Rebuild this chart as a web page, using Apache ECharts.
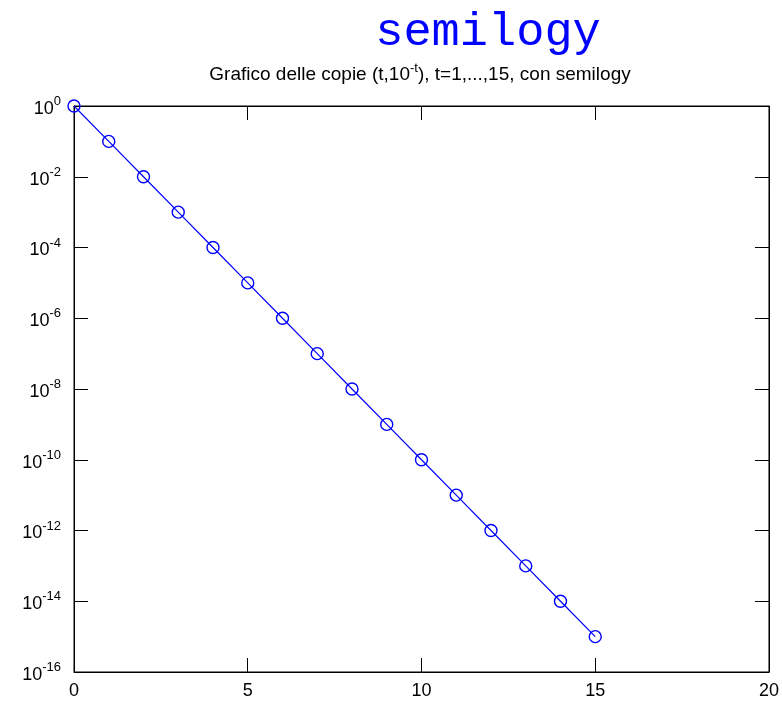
<!DOCTYPE html>
<html>
<head>
<meta charset="utf-8">
<script src="https://cdn.jsdelivr.net/npm/echarts@6/dist/echarts.min.js"></script>
<style>
html,body{margin:0;padding:0;background:#fff;}
#chart{width:782px;height:703px;}
</style>
</head>
<body>
<div id="chart"></div>
<script>
var tValues = [0, 1, 2, 3, 4, 5, 6, 7, 8, 9, 10, 11, 12, 13, 14, 15];
var yValues = [1, 1e-1, 1e-2, 1e-3, 1e-4, 1e-5, 1e-6, 1e-7, 1e-8, 1e-9, 1e-10, 1e-11, 1e-12, 1e-13, 1e-14, 1e-15];
var xTicks = [0, 5, 10, 15, 20];
var yTickExponents = [0, -2, -4, -6, -8, -10, -12, -14, -16];
var titleText = 'semilogy';
var subtitleMain = 'Grafico delle copie (t,10';
var subtitleSup = '-t';
var subtitleEnd = '), t=1,...,15, con semilogy';

var FONT = '"Liberation Sans", Arial, sans-serif';
var chart = echarts.init(document.getElementById('chart'), null, {renderer: 'canvas'});

var data = tValues.map(function (t, i) { return [t, yValues[i]]; });

function yLabel(v) {
  var e = Math.round(Math.log10(v));
  return '{b|10}{s|' + e + '}';
}

var tickStyle = {show: true, inside: true, length: 14, lineStyle: {color: '#000', width: 1}};

var option = {
  backgroundColor: '#fff',
  animation: false,
  grid: {left: 74, right: 12, top: 106, bottom: 31, show: true, borderColor: '#000', borderWidth: 1, backgroundColor: 'transparent'},
  xAxis: [{
    type: 'value', min: xTicks[0], max: xTicks[xTicks.length - 1], interval: 5, position: 'bottom',
    axisLine: {show: true, onZero: false, lineStyle: {color: '#000', width: 1}},
    axisTick: tickStyle,
    splitLine: {show: false},
    axisLabel: {show: true, margin: 10, color: '#000', fontSize: 18, fontFamily: FONT}
  }, {
    type: 'value', min: xTicks[0], max: xTicks[xTicks.length - 1], interval: 5, position: 'top',
    axisLine: {show: true, onZero: false, lineStyle: {color: '#000', width: 1}},
    axisTick: tickStyle,
    splitLine: {show: false},
    axisLabel: {show: false}
  }],
  yAxis: [{
    type: 'log', logBase: 10, min: 1e-16, max: 1, interval: 2, position: 'left',
    axisLine: {show: true, onZero: false, lineStyle: {color: '#000', width: 1}},
    axisTick: tickStyle,
    minorTick: {show: false},
    splitLine: {show: false},
    axisLabel: {
      show: true, margin: 13, color: '#000', formatter: yLabel,
      rich: {
        b: {fontSize: 18, fontFamily: FONT, color: '#000', padding: [6, 0, 0, 0]},
        s: {fontSize: 13, fontFamily: FONT, color: '#000', padding: [0, 0, 9, 0]}
      }
    }
  }, {
    type: 'log', logBase: 10, min: 1e-16, max: 1, interval: 2, position: 'right',
    axisLine: {show: true, onZero: false, lineStyle: {color: '#000', width: 1}},
    axisTick: tickStyle,
    minorTick: {show: false},
    splitLine: {show: false},
    axisLabel: {show: false}
  }],
  series: [{
    type: 'line',
    xAxisIndex: 0, yAxisIndex: 0,
    data: data,
    symbol: 'circle',
    symbolSize: 12,
    showAllSymbol: true,
    z: 3,
    lineStyle: {color: '#0000ff', width: 1.2},
    itemStyle: {color: 'rgba(0,0,0,0)', borderColor: '#0000ff', borderWidth: 1.4},
    clip: false
  }],
  graphic: [{
    type: 'text', x: 488, y: 9,
    style: {text: titleText, fill: '#0000ff', font: '47px "Liberation Mono", "DejaVu Sans Mono", monospace', align: 'center', verticalAlign: 'top'}
  }, {
    type: 'text', x: 420, y: 60,
    style: {
      text: '{b|' + subtitleMain + '}{s|' + subtitleSup + '}{b|' + subtitleEnd + '}',
      align: 'center', verticalAlign: 'top',
      rich: {
        b: {fontSize: 19, fontFamily: FONT, fill: '#000', padding: [5, 0, 0, 0]},
        s: {fontSize: 13, fontFamily: FONT, fill: '#000', padding: [0, 0, 8, 0]}
      }
    }
  }]
};
chart.setOption(option);
</script>
</body>
</html>
